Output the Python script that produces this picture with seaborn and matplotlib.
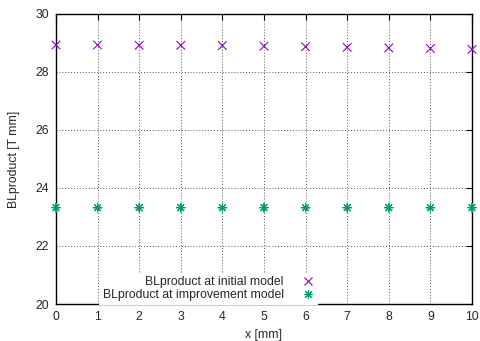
import matplotlib
matplotlib.use("Agg")
import matplotlib.pyplot as plt
import seaborn as sns
import pandas as pd

x_vals = [0, 1, 2, 3, 4, 5, 6, 7, 8, 9, 10]
initial_model = [28.93, 28.93, 28.92, 28.92, 28.91, 28.89, 28.87, 28.85, 28.83, 28.81, 28.78]
improvement_model = [23.32, 23.32, 23.32, 23.32, 23.32, 23.32, 23.32, 23.32, 23.32, 23.32, 23.32]
label_initial = "BLproduct at initial model"
label_improve = "BLproduct at improvement model"
x_ticks = [0, 1, 2, 3, 4, 5, 6, 7, 8, 9, 10]
y_ticks = [20, 22, 24, 26, 28, 30]

sns.set_style("white")
plt.rcParams['font.family'] = ['Liberation Sans', 'DejaVu Sans']
FS = 8.8

df = pd.DataFrame({
    "x": x_vals * 2,
    "y": initial_model + improvement_model,
    "series": [label_initial] * len(x_vals) + [label_improve] * len(x_vals),
})

fig = plt.figure(figsize=(4.81, 3.41), dpi=100)
ax = fig.add_axes([0.1164, 0.1085, 0.8649, 0.8505])

sns.scatterplot(data=df, x="x", y="y", hue="series", style="series",
                palette={label_initial: "#9400D3", label_improve: "#009E73"},
                markers={label_initial: "x", label_improve: (8, 2, 0)},
                s=38, linewidth=0.8, ax=ax, clip_on=False, zorder=3)

ax.set_xlim(0, 10)
ax.set_ylim(20, 30)
ax.set_xticks(x_ticks)
ax.set_yticks(y_ticks)
ax.tick_params(direction="in", top=True, right=True, length=4, width=0.8,
               labelsize=FS, color="black", pad=5)
ax.grid(True, linestyle=(0, (1, 2)), color="#555555", linewidth=0.7)
ax.set_axisbelow(True)
for sp in ax.spines.values():
    sp.set_color("black")
    sp.set_linewidth(1.0)
ax.set_xlabel("x [mm]", fontsize=FS, labelpad=4.5)
ax.set_ylabel("BLproduct [T mm]", fontsize=FS, labelpad=11)

leg = ax.legend(loc="lower right", bbox_to_anchor=(0.63, -0.003), markerfirst=False,
                frameon=True, fontsize=FS, handletextpad=1.5, labelspacing=0.07,
                borderpad=0.3, handlelength=1.0, borderaxespad=0)
leg.get_frame().set_facecolor("white")
leg.get_frame().set_edgecolor("none")
leg.get_frame().set_alpha(1.0)
leg.get_frame().set_boxstyle("square", pad=0)
for t in leg.get_texts():
    t.set_ha("right")
leg._legend_box.align = "right"

fig.savefig("out.png", dpi=100)
